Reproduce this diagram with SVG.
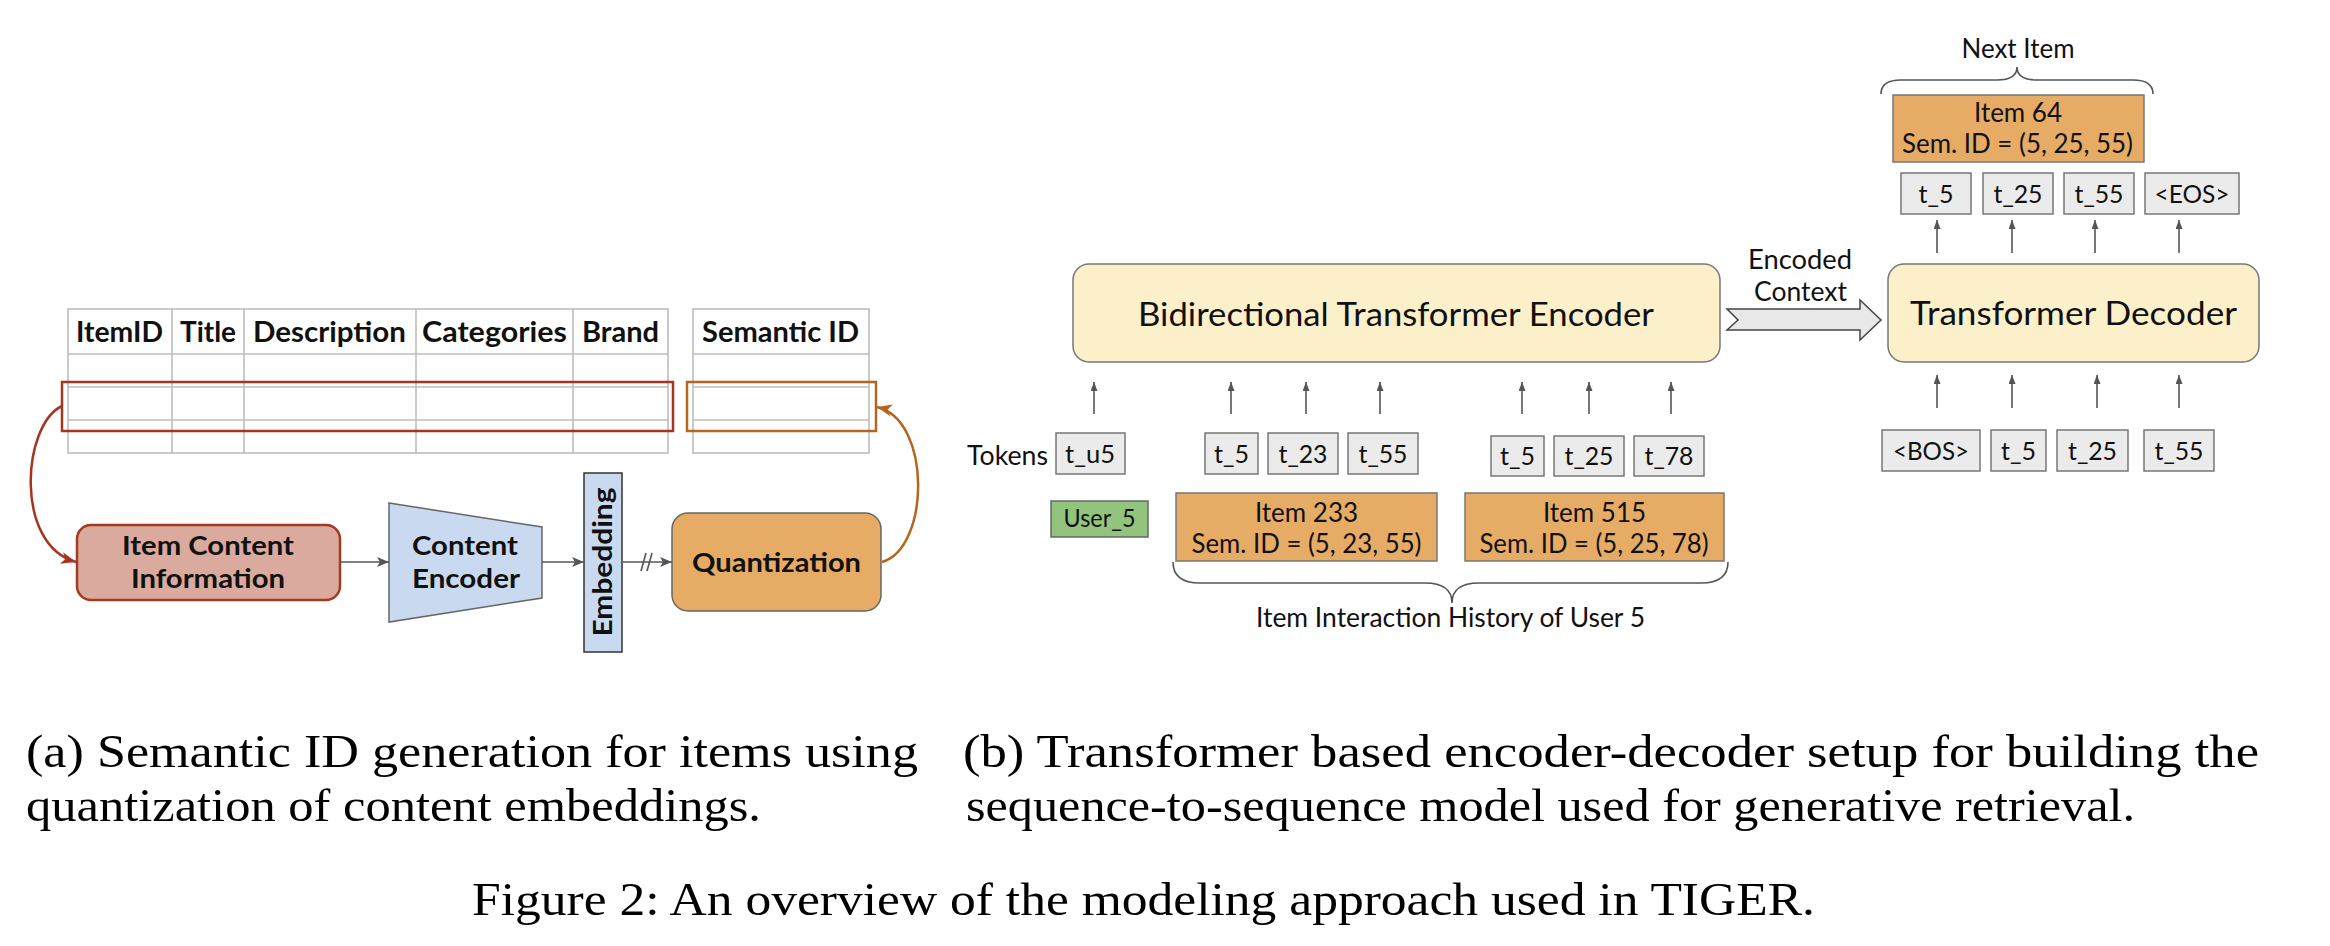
<svg xmlns="http://www.w3.org/2000/svg" width="2330" height="946" viewBox="0 0 2330 946">
<defs>
<style>
.sans{font-family:Lato,"Open Sans","Liberation Sans",sans-serif;fill:#111}
.b{font-weight:700}
.serif{font-family:"Liberation Serif","Times New Roman",serif;fill:#000;font-size:47px}
.grid{stroke:#bdbdbd;stroke-width:1.6;fill:none}
.tok{fill:#ebebeb;stroke:#777;stroke-width:1.5}
.item{fill:#e6ac66;stroke:#777;stroke-width:1.5}
.tf{fill:#fcf0ca;stroke:#777;stroke-width:1.5}
.arr{stroke:#555;stroke-width:1.6;fill:none}
</style>
<marker id="up" markerUnits="userSpaceOnUse" markerWidth="10" markerHeight="8" refX="9" refY="3.5" orient="auto">
<path d="M0,0 L9,3.5 L0,7 z" fill="#555"/>
</marker>
<marker id="stealth" markerUnits="userSpaceOnUse" markerWidth="14" markerHeight="12" refX="12" refY="5" orient="auto">
<path d="M0,0 L12,5 L0,10 L3,5 z" fill="#555"/>
</marker>
<marker id="redh" markerUnits="userSpaceOnUse" markerWidth="18" markerHeight="14" refX="15" refY="6" orient="auto">
<path d="M0,0 L15,6 L0,12 L4,6 z" fill="#a3361f"/>
</marker>
<marker id="orh" markerUnits="userSpaceOnUse" markerWidth="18" markerHeight="14" refX="15" refY="6" orient="auto">
<path d="M0,0 L15,6 L0,12 L4,6 z" fill="#b5651d"/>
</marker>
</defs>
<rect width="2330" height="946" fill="#ffffff"/>

<!-- Part (a) -->
<g id="item-table">
<rect class="grid" x="68" y="309" width="600" height="144"/>
<line class="grid" x1="68" y1="354" x2="668" y2="354"/>
<line class="grid" x1="68" y1="387" x2="668" y2="387"/>
<line class="grid" x1="68" y1="420" x2="668" y2="420"/>
<line class="grid" x1="172" y1="309" x2="172" y2="453"/>
<line class="grid" x1="244" y1="309" x2="244" y2="453"/>
<line class="grid" x1="416" y1="309" x2="416" y2="453"/>
<line class="grid" x1="573" y1="309" x2="573" y2="453"/>
<g class="sans b" font-size="28" text-anchor="middle">
<text x="119.5" y="342" textLength="87" lengthAdjust="spacingAndGlyphs">ItemID</text>
<text x="208" y="342" textLength="56" lengthAdjust="spacingAndGlyphs">Title</text>
<text x="329.5" y="342" textLength="153" lengthAdjust="spacingAndGlyphs">Description</text>
<text x="494.5" y="342" textLength="145" lengthAdjust="spacingAndGlyphs">Categories</text>
<text x="620.5" y="342" textLength="77" lengthAdjust="spacingAndGlyphs">Brand</text>
</g>
<rect x="62" y="382" width="611" height="49" fill="none" stroke="#a3361f" stroke-width="2.5"/>
</g>

<g id="semantic-table">
<rect class="grid" x="693" y="309" width="176" height="144"/>
<line class="grid" x1="693" y1="354" x2="869" y2="354"/>
<line class="grid" x1="693" y1="387" x2="869" y2="387"/>
<line class="grid" x1="693" y1="420" x2="869" y2="420"/>
<text class="sans b" x="780.5" y="342" font-size="28" text-anchor="middle" textLength="157" lengthAdjust="spacingAndGlyphs">Semantic ID</text>
<rect x="687" y="382" width="189" height="49" fill="none" stroke="#b5651d" stroke-width="2.5"/>
</g>

<g id="item-content">
<rect x="77" y="525" width="263" height="75" rx="14" fill="#d9aa9d" stroke="#a53a22" stroke-width="2.5"/>
<text class="sans b" x="208" y="555" font-size="26" text-anchor="middle" textLength="172" lengthAdjust="spacingAndGlyphs">Item Content</text>
<text class="sans b" x="208" y="588" font-size="26" text-anchor="middle" textLength="154" lengthAdjust="spacingAndGlyphs">Information</text>
</g>

<g id="content-encoder">
<polygon points="389,503 542,527 542,598 389,622" fill="#c9daf0" stroke="#666" stroke-width="1.5"/>
<text class="sans b" x="465" y="555" font-size="26" text-anchor="middle" textLength="106" lengthAdjust="spacingAndGlyphs">Content</text>
<text class="sans b" x="466" y="588" font-size="26" text-anchor="middle" textLength="108" lengthAdjust="spacingAndGlyphs">Encoder</text>
</g>

<g id="embedding">
<rect x="584" y="473" width="38" height="179" fill="#c9daf0" stroke="#333" stroke-width="1.5"/>
<text class="sans b" transform="translate(612,562) rotate(-90)" x="0" y="0" font-size="26" text-anchor="middle" textLength="149" lengthAdjust="spacingAndGlyphs">Embedding</text>
</g>

<g id="quantization">
<rect x="672" y="513" width="209" height="98" rx="16" fill="#e6ac66" stroke="#666" stroke-width="1.5"/>
<text class="sans b" x="776.5" y="572" font-size="27" text-anchor="middle" textLength="169" lengthAdjust="spacingAndGlyphs">Quantization</text>
</g>

<!-- Part (b) -->
<g id="encoder">
<rect class="tf" x="1073" y="264" width="647" height="98" rx="16"/>
<text class="sans" x="1138" y="326" font-size="32" textLength="516" lengthAdjust="spacingAndGlyphs">Bidirectional Transformer Encoder</text>
</g>

<g id="decoder">
<rect class="tf" x="1888" y="264" width="371" height="98" rx="16"/>
<text class="sans" x="1910" y="325" font-size="32" textLength="327" lengthAdjust="spacingAndGlyphs">Transformer Decoder</text>
</g>

<g id="tokens-label">
<text class="sans" x="967" y="465" font-size="26" textLength="81" lengthAdjust="spacingAndGlyphs">Tokens</text>
</g>

<g id="input-tokens" font-size="25" text-anchor="middle">
<rect class="tok" x="1056" y="433" width="69" height="41"/>
<text class="sans" x="1090" y="463" textLength="50" lengthAdjust="spacingAndGlyphs">t_u5</text>
<rect class="tok" x="1205" y="433" width="53" height="41"/>
<text class="sans" x="1231.5" y="463" textLength="35" lengthAdjust="spacingAndGlyphs">t_5</text>
<rect class="tok" x="1268" y="433" width="70" height="41"/>
<text class="sans" x="1303" y="463" textLength="49" lengthAdjust="spacingAndGlyphs">t_23</text>
<rect class="tok" x="1348" y="433" width="70" height="41"/>
<text class="sans" x="1383" y="463" textLength="49" lengthAdjust="spacingAndGlyphs">t_55</text>
<rect class="tok" x="1491" y="436" width="53" height="40"/>
<text class="sans" x="1517.5" y="465" textLength="35" lengthAdjust="spacingAndGlyphs">t_5</text>
<rect class="tok" x="1554" y="436" width="70" height="40"/>
<text class="sans" x="1589" y="465" textLength="49" lengthAdjust="spacingAndGlyphs">t_25</text>
<rect class="tok" x="1634" y="436" width="70" height="40"/>
<text class="sans" x="1669" y="465" textLength="49" lengthAdjust="spacingAndGlyphs">t_78</text>
</g>

<g id="user5">
<rect x="1051" y="501" width="97" height="36" fill="#93c47d" stroke="#666" stroke-width="1.5"/>
<text class="sans" x="1099.5" y="527" font-size="25" text-anchor="middle" textLength="72" lengthAdjust="spacingAndGlyphs">User_5</text>
</g>

<g id="item233">
<rect class="item" x="1176" y="493" width="261" height="68"/>
<text class="sans" x="1306.5" y="522" font-size="26" text-anchor="middle">Item 233</text>
<text class="sans" x="1306.5" y="553" font-size="26" text-anchor="middle" textLength="230" lengthAdjust="spacingAndGlyphs">Sem. ID = (5, 23, 55)</text>
</g>

<g id="item515">
<rect class="item" x="1465" y="493" width="259" height="68"/>
<text class="sans" x="1594.5" y="522" font-size="26" text-anchor="middle">Item 515</text>
<text class="sans" x="1594" y="553" font-size="26" text-anchor="middle" textLength="229" lengthAdjust="spacingAndGlyphs">Sem. ID = (5, 25, 78)</text>
</g>

<g id="history-label">
<text class="sans" x="1256" y="627" font-size="26" textLength="389" lengthAdjust="spacingAndGlyphs">Item Interaction History of User 5</text>
</g>

<g id="encoded-context">
<polygon points="1727,309 1860,309 1860,300 1881,320 1860,340 1860,330 1727,330 1738,320" fill="#e8e8e8" stroke="#444" stroke-width="1.5"/>
<text class="sans" x="1748" y="269" font-size="26" textLength="104" lengthAdjust="spacingAndGlyphs">Encoded</text>
<text class="sans" x="1754" y="301" font-size="26" textLength="93" lengthAdjust="spacingAndGlyphs">Context</text>
</g>

<g id="decoder-inputs" font-size="25" text-anchor="middle">
<rect class="tok" x="1882" y="430" width="98" height="41"/>
<text class="sans" x="1931" y="460" textLength="76" lengthAdjust="spacingAndGlyphs">&lt;BOS&gt;</text>
<rect class="tok" x="1991" y="430" width="55" height="41"/>
<text class="sans" x="2018.5" y="460" textLength="35" lengthAdjust="spacingAndGlyphs">t_5</text>
<rect class="tok" x="2057" y="430" width="71" height="41"/>
<text class="sans" x="2092.5" y="460" textLength="49" lengthAdjust="spacingAndGlyphs">t_25</text>
<rect class="tok" x="2144" y="430" width="70" height="41"/>
<text class="sans" x="2179" y="460" textLength="49" lengthAdjust="spacingAndGlyphs">t_55</text>
</g>

<g id="decoder-outputs" font-size="25" text-anchor="middle">
<rect class="tok" x="1901" y="173" width="70" height="41"/>
<text class="sans" x="1936" y="203" textLength="35" lengthAdjust="spacingAndGlyphs">t_5</text>
<rect class="tok" x="1983" y="173" width="70" height="41"/>
<text class="sans" x="2018" y="203" textLength="49" lengthAdjust="spacingAndGlyphs">t_25</text>
<rect class="tok" x="2064" y="173" width="70" height="41"/>
<text class="sans" x="2099" y="203" textLength="49" lengthAdjust="spacingAndGlyphs">t_55</text>
<rect class="tok" x="2145" y="173" width="94" height="41"/>
<text class="sans" x="2192" y="203" textLength="75" lengthAdjust="spacingAndGlyphs">&lt;EOS&gt;</text>
</g>

<g id="item64">
<rect class="item" x="1893" y="95" width="251" height="67"/>
<text class="sans" x="2018" y="122" font-size="26" text-anchor="middle" textLength="88" lengthAdjust="spacingAndGlyphs">Item 64</text>
<text class="sans" x="2017.5" y="153" font-size="26" text-anchor="middle" textLength="231" lengthAdjust="spacingAndGlyphs">Sem. ID = (5, 25, 55)</text>
</g>

<g id="next-item-label">
<text class="sans" x="2018" y="58" font-size="26" text-anchor="middle" textLength="113" lengthAdjust="spacingAndGlyphs">Next Item</text>
</g>

<g id="connectors">
<path d="M62,406 C22,425 14,545 76,562" fill="none" stroke="#a3361f" stroke-width="2.5" marker-end="url(#redh)"/>
<path d="M882,562 C930,548 932,420 877,407" fill="none" stroke="#b5651d" stroke-width="2.5" marker-end="url(#orh)"/>
<line class="arr" x1="340" y1="562" x2="389" y2="562" marker-end="url(#stealth)"/>
<line class="arr" x1="542" y1="562" x2="584" y2="562" marker-end="url(#stealth)"/>
<line class="arr" x1="623" y1="562" x2="672" y2="562" marker-end="url(#stealth)"/>
<line class="arr" x1="641" y1="571" x2="646" y2="553"/>
<line class="arr" x1="647" y1="571" x2="652" y2="553"/>
<line class="arr" x1="1094" y1="414" x2="1094" y2="382" marker-end="url(#up)"/>
<line class="arr" x1="1231" y1="414" x2="1231" y2="382" marker-end="url(#up)"/>
<line class="arr" x1="1306" y1="414" x2="1306" y2="382" marker-end="url(#up)"/>
<line class="arr" x1="1380" y1="414" x2="1380" y2="382" marker-end="url(#up)"/>
<line class="arr" x1="1522" y1="414" x2="1522" y2="382" marker-end="url(#up)"/>
<line class="arr" x1="1589" y1="414" x2="1589" y2="382" marker-end="url(#up)"/>
<line class="arr" x1="1671" y1="414" x2="1671" y2="382" marker-end="url(#up)"/>
<line class="arr" x1="1937" y1="408" x2="1937" y2="375" marker-end="url(#up)"/>
<line class="arr" x1="2012" y1="408" x2="2012" y2="375" marker-end="url(#up)"/>
<line class="arr" x1="2097" y1="408" x2="2097" y2="375" marker-end="url(#up)"/>
<line class="arr" x1="2179" y1="408" x2="2179" y2="375" marker-end="url(#up)"/>
<line class="arr" x1="1937" y1="253" x2="1937" y2="220" marker-end="url(#up)"/>
<line class="arr" x1="2012" y1="253" x2="2012" y2="220" marker-end="url(#up)"/>
<line class="arr" x1="2095" y1="253" x2="2095" y2="220" marker-end="url(#up)"/>
<line class="arr" x1="2179" y1="253" x2="2179" y2="220" marker-end="url(#up)"/>
<path class="arr" d="M1173,562 Q1173,583 1200,583 L1425,583 Q1452,583 1452,603 Q1452,583 1479,583 L1701,583 Q1728,583 1728,562"/>
<path class="arr" d="M1881,94 Q1881,80 1901,80 L1997,80 Q2017,80 2017,67 Q2017,80 2037,80 L2133,80 Q2153,80 2153,94"/>
</g>

<g id="captions">
<text class="serif" x="26" y="767" textLength="892" lengthAdjust="spacingAndGlyphs">(a) Semantic ID generation for items using</text>
<text class="serif" x="26" y="821" textLength="735" lengthAdjust="spacingAndGlyphs">quantization of content embeddings.</text>
<text class="serif" x="963" y="767" textLength="1296" lengthAdjust="spacingAndGlyphs">(b) Transformer based encoder-decoder setup for building the</text>
<text class="serif" x="966" y="821" textLength="1169" lengthAdjust="spacingAndGlyphs">sequence-to-sequence model used for generative retrieval.</text>
<text class="serif" x="472" y="915" textLength="1343" lengthAdjust="spacingAndGlyphs">Figure 2: An overview of the modeling approach used in TIGER.</text>
</g>
</svg>
